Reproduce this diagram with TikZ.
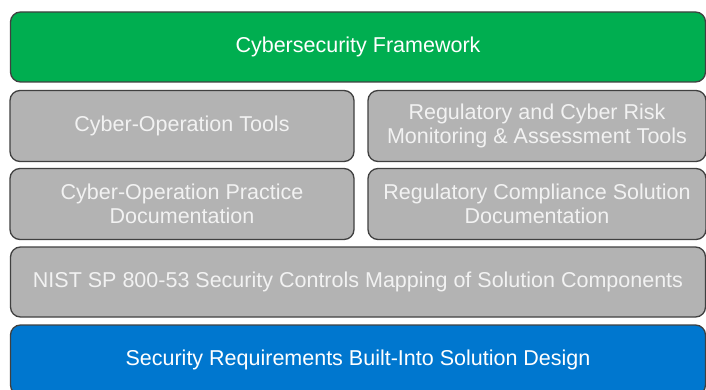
\documentclass[tikz,border=0pt]{standalone}
\usepackage{fontspec}
\setmainfont{Liberation Sans}
\usepackage{xcolor}
\usetikzlibrary{positioning}
\definecolor{FrameGreen}{RGB}{0,174,80}
\definecolor{LayerGray}{RGB}{179,179,179}
\definecolor{DesignBlue}{RGB}{0,119,207}
\definecolor{EdgeGray}{RGB}{64,64,64}

\begin{document}
\begin{tikzpicture}[x=1pt, y=-1pt,
                % box styles
                layer/.style={rectangle, rounded corners=10pt, draw=EdgeGray, line width=1.3pt, text=white, font=\fontsize{21.5}{24.5}\selectfont, align=center, inner sep=0pt},
                widebox/.style={layer, minimum width=695pt, minimum height=70pt},
                halfbox/.style={layer, minimum height=71pt},
                graybox/.style={fill=LayerGray, text=white!95!black}
            ]
                \useasboundingbox (0,0) rectangle (706,390);
                \clip (0,0) rectangle (706,390);

                % top layer
                \node[widebox, fill=FrameGreen] (framework) at (358, 47) {Cybersecurity Framework};

                % tools row
                \node[halfbox, graybox, minimum width=344pt] (opTools) at (182, 126) {Cyber-Operation Tools};
                \node[halfbox, graybox, minimum width=338pt] (riskTools) at (537, 126) {Regulatory and Cyber Risk\\Monitoring \& Assessment Tools};

                % documentation row
                \node[halfbox, graybox, minimum width=344pt] (opDocs) at (182, 204) {Cyber-Operation Practice\\Documentation};
                \node[halfbox, graybox, minimum width=338pt] (compDocs) at (537, 204) {Regulatory Compliance Solution\\Documentation};

                % controls mapping
                \node[widebox, graybox] (nistMap) at (358, 282) {NIST SP 800-53 Security Controls Mapping of Solution Components};

                % bottom layer
                \node[widebox, fill=DesignBlue] (secReq) at (358, 360) {Security Requirements Built-Into Solution Design};

            \end{tikzpicture}
\end{document}
